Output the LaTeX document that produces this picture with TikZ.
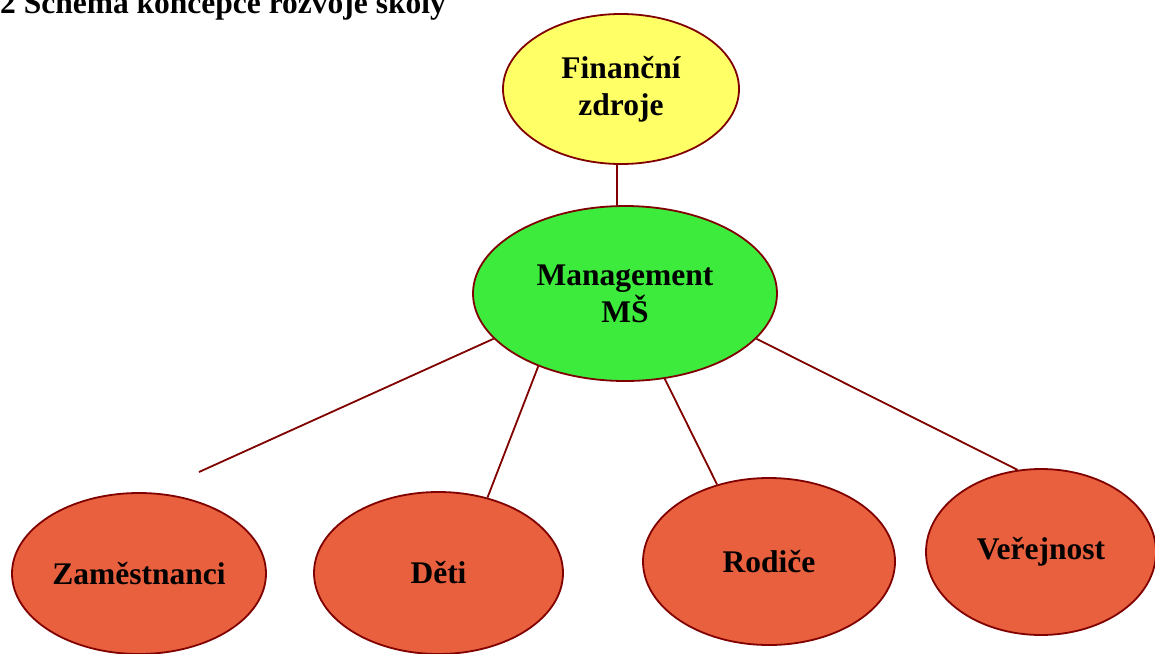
\documentclass[tikz,border=0pt]{standalone}
\usepackage{fontspec}
\setmainfont{Liberation Serif}
\usetikzlibrary{shapes.geometric}
\definecolor{edgered}{HTML}{800000}
\definecolor{fillyellow}{HTML}{FFFF66}
\definecolor{fillgreen}{HTML}{3DEB3D}
\definecolor{fillorange}{HTML}{E9603E}
\tikzset{
  bubble/.style={ellipse, draw=edgered, line width=1.8pt, inner sep=0pt,
    align=center, font=\bfseries\fontsize{31.5}{37}\selectfont},
  link/.style={draw=edgered, line width=1.8pt},
  heading/.style={font=\bfseries\fontsize{31.5}{37}\selectfont, inner sep=0pt}
}
\begin{document}
\begin{tikzpicture}[x=1pt, y=-1pt]
  \useasboundingbox (0,0) rectangle (1155,653);

  % heading of the section
  \node[heading, anchor=base west] (title) at (0,13) {2 Schéma koncepce rozvoje školy};

  % central bubbles
  \node[bubble, fill=fillyellow, minimum width=236pt, minimum height=150pt] (fin) at (621,89) {Finanční\\zdroje};
  \node[bubble, fill=fillgreen, minimum width=304pt, minimum height=175pt] (mgmt) at (625,293.5) {Management\\MŠ};

  % stakeholder bubbles
  \node[bubble, fill=fillorange, minimum width=254pt, minimum height=161pt] (zam) at (139,573.5) {Zaměstnanci};
  \node[bubble, fill=fillorange, minimum width=249pt, minimum height=162pt] (deti) at (438.5,573) {Děti};
  \node[bubble, fill=fillorange, minimum width=252pt, minimum height=167pt] (rod) at (769,561.5) {Rodiče};
  \node[bubble, fill=fillorange, minimum width=230pt, minimum height=166pt] (ver) at (1041,552) {Veřejnost};

  % loose end of the staff connector
  \coordinate (zamEnd) at (199,472);

  % connectors
  \draw[link] (fin.267.7) -- (fin.267.7 |- mgmt.north);
  \draw[link] (mgmt.199.3) -- (zamEnd);
  \draw[link] (mgmt.220.2) -- (deti.57.8);
  \draw[link] (mgmt.295.9) -- (rod.124.7);
  \draw[link] (mgmt.341.4) -- (ver.106.5);
\end{tikzpicture}
\end{document}
